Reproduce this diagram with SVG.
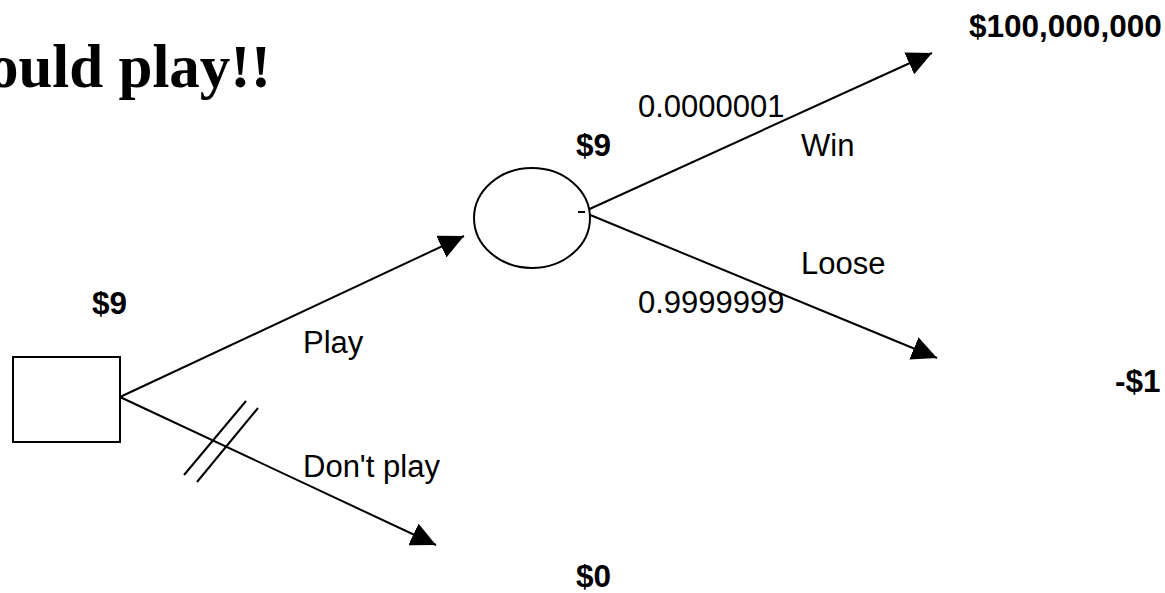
<svg xmlns="http://www.w3.org/2000/svg" width="1165" height="593" viewBox="0 0 1165 593">
<style>
.t{font-family:"Liberation Sans",Arial,sans-serif;font-size:31px;fill:#000}
.b{font-family:"Liberation Sans",Arial,sans-serif;font-size:31.5px;font-weight:bold;fill:#000}
.ln{stroke:#000;stroke-width:2;fill:none}
.shape{stroke:#000;stroke-width:2;fill:#fff}
</style>
<defs>
<marker id="arr" markerUnits="userSpaceOnUse" markerWidth="26" markerHeight="24" refX="25" refY="12" orient="auto" viewBox="0 0 26 24">
<path d="M0,0 L25,12 L0,24 Z" fill="#000"/>
</marker>
</defs>
<text x="271" y="87" text-anchor="end" style="font-family:'Liberation Serif','Times New Roman',serif;font-size:61px;font-weight:bold">ould play!!</text>
<g id="connectors">
<line class="ln" x1="120" y1="397" x2="464" y2="236" marker-end="url(#arr)"/>
<line class="ln" x1="120" y1="397" x2="436" y2="545" marker-end="url(#arr)"/>
<line class="ln" x1="184" y1="475" x2="246" y2="401"/>
<line class="ln" x1="197" y1="482" x2="258" y2="408"/>
<line class="ln" x1="583" y1="212" x2="932" y2="53" marker-end="url(#arr)"/>
<line class="ln" x1="583" y1="212" x2="937" y2="358" marker-end="url(#arr)"/>
<text class="t" x="303" y="353">Play</text>
<text class="t" x="303" y="477">Don't play</text>
<text class="t" x="638" y="117">0.0000001</text>
<text class="t" x="801" y="156">Win</text>
<text class="t" x="801" y="274">Loose</text>
<text class="t" x="638" y="313">0.9999999</text>
</g>
<g id="decision">
<rect class="shape" x="13" y="357" width="107" height="85"/>
<text class="b" x="92" y="314">$9</text>
</g>
<g id="chance">
<ellipse class="shape" cx="532" cy="218" rx="58" ry="50"/>
<line class="ln" x1="578" y1="212" x2="585" y2="212"/>
<text class="b" x="576" y="156">$9</text>
</g>
<g id="win-outcome">
<text class="b" x="969" y="37">$100,000,000</text>
</g>
<g id="lose-outcome">
<text class="b" x="1115" y="392">-$1</text>
</g>
<g id="noplay-outcome">
<text class="b" x="576" y="587">$0</text>
</g>
</svg>
